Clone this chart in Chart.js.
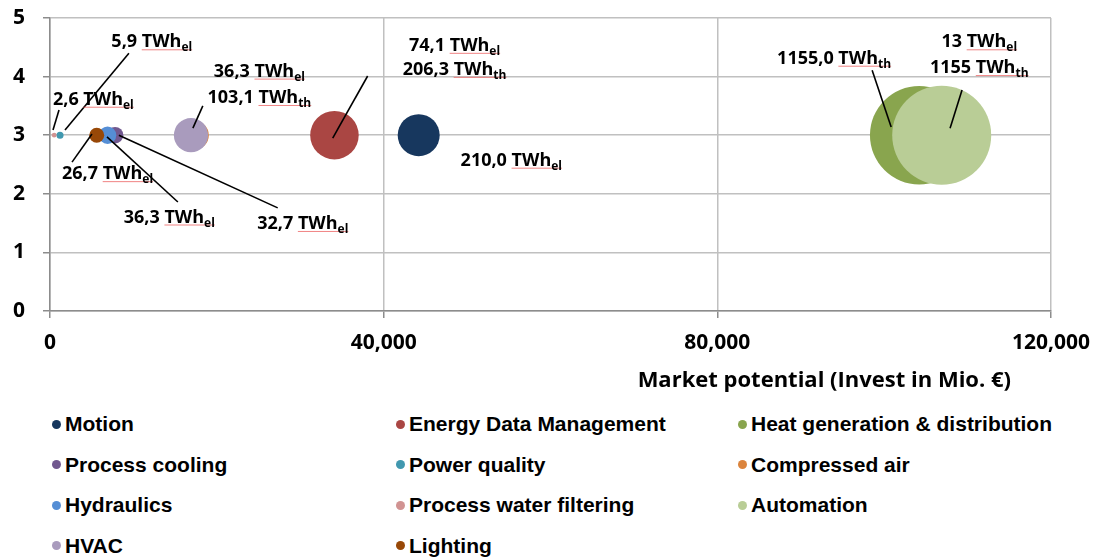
<!DOCTYPE html>
<html lang="en">
<head>
<meta charset="UTF-8" />
<title>Market potential per technology</title>
<script src="https://cdn.jsdelivr.net/npm/chart.js"></script>
<style>
  body { margin: 0; background: #fff; }
  #wrap { position: relative; width: 1102px; height: 558px; overflow: hidden; }
  #chart { position: absolute; left: 0; top: 0; }
  .item { position: absolute; height: 24px; display: flex; align-items: center; white-space: nowrap;
          font: bold 21px "Liberation Sans", Arial, sans-serif; color: #000; }
  .dot { width: 9px; height: 9px; border-radius: 50%; margin-right: 4px; }
</style>
</head>
<body>
<div id="wrap">
  <canvas id="chart" width="1102" height="400"></canvas>
  <div id="legend"></div>
</div>

<script>
// bubbles
const categories = ['Motion', 'Energy Data Management', 'Heat generation & distribution',
  'Process cooling', 'Power quality', 'Compressed air', 'Hydraulics',
  'Process water filtering', 'Automation', 'HVAC', 'Lighting'];
const investment = [44200, 34100, 104200, 7800, 1200, 17300, 6900, 500, 106900, 16900, 5600];
const level = [3, 3, 3, 3, 3, 3, 3, 3, 3, 3, 3];
const energyTWh = [210.0, 280.4, 1155.0, 32.7, 5.9, 100.0, 36.3, 2.6, 1168.0, 139.4, 26.7];
const colors = ['#17375E', '#AA4643', '#89A54E', '#71588F', '#4198AF', '#DB843D',
  '#558ED5', '#D19392', '#B9CD96', '#A99BBD', '#984807'];

// axes
const xTicks = [0, 40000, 80000, 120000];
const yTicks = [0, 1, 2, 3, 4, 5];
const xTitle = 'Market potential (Invest in Mio. €)';

// data labels (value units) and their leader lines
const noteText = ['5,9 TWh', '2,6 TWh', '36,3 TWh', '103,1 TWh', '26,7 TWh', '36,3 TWh', '32,7 TWh',
  '74,1 TWh', '206,3 TWh', '210,0 TWh', '1155,0 TWh', '13 TWh', '1155 TWh'];
const noteSub = ['el', 'el', 'el', 'th', 'el', 'el', 'el', 'el', 'th', 'el', 'th', 'el', 'th'];
const noteX = [12200, 5200, 25100, 25100, 6900, 14300, 30300, 48500, 48500, 55300, 94000, 111400, 111400];
const noteY = [4.5, 3.52, 4.0, 3.55, 2.25, 1.51, 1.40, 4.44, 4.03, 2.48, 4.22, 4.5, 4.06];
const leaderFrom = [[9460, 4.40], [1080, 3.43], [18320, 3.50], [2640, 2.54], [15330, 1.86],
  [27300, 1.76], [38080, 4.01], [98560, 4.11], [109340, 3.77]];
const leaderTo = [[1800, 3.09], [360, 3.09], [17130, 3.12], [5030, 3.02], [6830, 2.97],
  [8260, 3.00], [33890, 2.95], [100840, 3.14], [107900, 3.12]];

const maxRadius = 49.5;
const biggest = Math.max(...energyTWh);

const FONT = '"Open Sans", Roboto, sans-serif';

const datasets = categories.map((name, i) => ({
  label: name,
  data: [{ x: investment[i], y: level[i], r: maxRadius * Math.sqrt(energyTWh[i] / biggest) }],
  backgroundColor: colors[i],
  borderWidth: 0,
  order: categories.length - i // later series on top, like the original
}));

const notesPlugin = {
  id: 'notes',
  afterDatasetsDraw(chart) {
    const { ctx, scales: { x, y } } = chart;
    ctx.save();
    // leader lines
    ctx.strokeStyle = '#000';
    ctx.lineWidth = 1.6;
    leaderFrom.forEach((p, i) => {
      ctx.beginPath();
      ctx.moveTo(x.getPixelForValue(p[0]), y.getPixelForValue(p[1]));
      ctx.lineTo(x.getPixelForValue(leaderTo[i][0]), y.getPixelForValue(leaderTo[i][1]));
      ctx.stroke();
    });
    // labels with subscript
    ctx.textBaseline = 'alphabetic';
    ctx.textAlign = 'left';
    noteText.forEach((t, i) => {
      ctx.font = 'bold 18px ' + FONT;
      const w1 = ctx.measureText(t).width;
      const lead = ctx.measureText(t.slice(0, t.indexOf('TWh'))).width;
      ctx.font = 'bold 12px ' + FONT;
      const w2 = ctx.measureText(noteSub[i]).width;
      const left = x.getPixelForValue(noteX[i]) - (w1 + w2) / 2;
      const base = y.getPixelForValue(noteY[i]);
      // spell-check underline
      ctx.strokeStyle = 'rgba(235,90,90,0.75)';
      ctx.lineWidth = 1;
      ctx.beginPath();
      ctx.moveTo(left + lead, base + 2.5);
      ctx.lineTo(left + w1 + w2, base + 2.5);
      ctx.stroke();
      ctx.fillStyle = '#000';
      ctx.font = 'bold 18px ' + FONT;
      ctx.fillText(t, left, base);
      ctx.font = 'bold 12px ' + FONT;
      ctx.fillText(noteSub[i], left + w1, base + 4);
    });
    // axis title
    ctx.font = 'bold 22px ' + FONT;
    ctx.textAlign = 'right';
    ctx.textBaseline = 'middle';
    ctx.fillText(xTitle, chart.chartArea.right - 40, 381);
    ctx.restore();
  }
};

function build() {
  new Chart(document.getElementById('chart'), {
    type: 'bubble',
    data: { datasets },
    options: {
      responsive: false,
      animation: false,
      events: [],
      layout: { autoPadding: false, padding: { top: 18, right: 50, left: 0, bottom: 0 } },
      plugins: { legend: { display: false }, tooltip: { enabled: false } },
      scales: {
        x: {
          type: 'linear', min: 0, max: 120000,
          afterBuildTicks: s => { s.ticks = xTicks.map(v => ({ value: v })); },
          afterFit: s => { s.height = 89; },
          ticks: {
            color: '#000', padding: 12, maxRotation: 0,
            font: { family: FONT, size: 21, weight: 'bold' },
            callback: v => v.toLocaleString('en-US')
          },
          grid: { color: '#c0c0c0', lineWidth: 1.5, tickLength: 7, tickColor: '#8c8c8c' },
          border: { color: '#8c8c8c', width: 1.5 }
        },
        y: {
          type: 'linear', min: 0, max: 5,
          afterBuildTicks: s => { s.ticks = yTicks.map(v => ({ value: v })); },
          afterFit: s => { s.width = 50; s.paddingTop = 0; s.paddingBottom = 0; },
          ticks: {
            color: '#000', padding: 18,
            font: { family: FONT, size: 21, weight: 'bold' }
          },
          grid: { color: '#c0c0c0', lineWidth: 1.5, tickLength: 7, tickColor: '#8c8c8c' },
          border: { color: '#8c8c8c', width: 1.5 }
        }
      }
    },
    plugins: [notesPlugin]
  });

  // three-column legend
  const colX = [52, 396, 738];
  const rowY = [424, 464.5, 505, 545.5];
  const legend = document.getElementById('legend');
  categories.forEach((name, i) => {
    const item = document.createElement('div');
    item.className = 'item';
    item.style.left = colX[i % 3] + 'px';
    item.style.top = (rowY[Math.floor(i / 3)] - 12) + 'px';
    const dot = document.createElement('span');
    dot.className = 'dot';
    dot.style.background = colors[i];
    const txt = document.createElement('span');
    txt.textContent = name;
    item.append(dot, txt);
    legend.appendChild(item);
  });
}

Promise.all([
  document.fonts.load('bold 18px "Open Sans"'),
  document.fonts.load('bold 21px "Liberation Sans"')
]).then(build, build);
</script>
</body>
</html>
